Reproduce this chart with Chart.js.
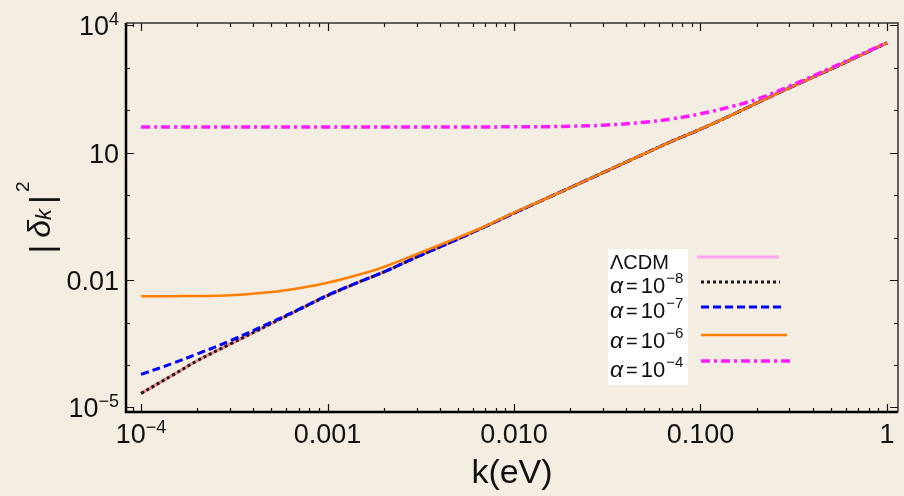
<!DOCTYPE html>
<html>
<head>
<meta charset="utf-8">
<script src="https://cdn.jsdelivr.net/npm/chart.js@4/dist/chart.umd.min.js"></script>
<style>
  html, body { margin: 0; background: #f3ede2; }
  canvas { display: block; }
</style>
</head>
<body>
<canvas id="deltaChart" width="904" height="496"></canvas>
<script>
// k in eV
const kValues = [1e-4, 1.5e-4, 2e-4, 3e-4, 5e-4, 7e-4, 1e-3, 1.5e-3, 2e-3, 3e-3, 5e-3, 7e-3,
  0.01, 0.015, 0.02, 0.03, 0.05, 0.07, 0.1, 0.15, 0.2, 0.3, 0.5, 0.7, 1];

// |delta_k|^2
const lcdm = [2.14e-5, 6.0e-5, 1.26e-4, 3.1e-4, 9.5e-4, 2.0e-3, 4.3e-3, 9.3e-3, 0.0155, 0.0347, 0.093, 0.182,
  0.38, 0.85, 1.51, 3.4, 9.5, 18.6, 36, 81, 148, 340, 933, 1860, 3890];
const alpha8 = [2.14e-5, 6.0e-5, 1.26e-4, 3.1e-4, 9.5e-4, 2.0e-3, 4.3e-3, 9.3e-3, 0.0155, 0.0347, 0.093, 0.182,
  0.38, 0.85, 1.51, 3.4, 9.5, 18.6, 36, 81, 148, 340, 933, 1860, 3890];
const alpha7 = [6.0e-5, 1.12e-4, 1.82e-4, 3.7e-4, 1.02e-3, 2.04e-3, 4.4e-3, 9.3e-3, 0.0155, 0.0347, 0.093, 0.182,
  0.38, 0.85, 1.51, 3.4, 9.5, 18.6, 36, 81, 148, 340, 933, 1860, 3890];
const alpha6 = [4.17e-3, 4.19e-3, 4.22e-3, 4.37e-3, 5.25e-3, 6.46e-3, 8.7e-3, 0.0138, 0.0204, 0.0407, 0.100, 0.186,
  0.39, 0.85, 1.51, 3.4, 9.5, 18.6, 36, 81, 148, 340, 933, 1860, 3890];
const alpha4 = [40.8, 40.8, 40.8, 40.8, 40.8, 40.8, 40.8, 40.8, 40.8, 40.8, 40.8, 40.8,
  40.9, 41.2, 42.2, 44.7, 52.5, 63, 83, 126, 182, 372, 1000, 1950, 3980];

const legendNames = ['ΛCDM', 'α = 10', 'α = 10', 'α = 10', 'α = 10'];
const legendExps = ['', '−8', '−7', '−6', '−4'];

const xTickValues = [1e-4, 1e-3, 1e-2, 1e-1, 1];
const xTickLabels = ['10^−4', '0.001', '0.010', '0.100', '1'];
const yTickValues = [1e-5, 1e-2, 10, 1e4];
const yTickLabels = ['10^−5', '0.01', '10', '10^4'];

const FONT = '"Liberation Sans", Arial, sans-serif';
const isSame = (a, b) => Math.abs(Math.log10(a) - Math.log10(b)) < 1e-6;
const toPoints = arr => arr.map((v, i) => ({ x: kValues[i], y: v }));

const frameTicks = {
  id: 'frameTicks',
  afterDatasetsDraw(chart) {
    const { ctx, chartArea: a, scales: { x, y } } = chart;
    ctx.save();
    ctx.strokeStyle = '#111';
    ctx.lineWidth = 1.2;
    ctx.beginPath();
    x.ticks.forEach(t => {
      const px = Math.round(x.getPixelForValue(t.value)) + 0.5;
      const len = xTickValues.some(v => isSame(v, t.value)) ? 8 : 4;
      ctx.moveTo(px, a.bottom); ctx.lineTo(px, a.bottom - len);
      ctx.moveTo(px, a.top); ctx.lineTo(px, a.top + len);
    });
    y.ticks.forEach(t => {
      const py = Math.round(y.getPixelForValue(t.value)) + 0.5;
      const len = yTickValues.some(v => isSame(v, t.value)) ? 8 : 4;
      ctx.moveTo(a.left, py); ctx.lineTo(a.left + len, py);
      ctx.moveTo(a.right, py); ctx.lineTo(a.right - len, py);
    });
    ctx.stroke();
    ctx.strokeStyle = '#333';
    ctx.lineWidth = 1.5;
    ctx.beginPath();
    ctx.moveTo(a.left, a.top); ctx.lineTo(a.right, a.top); ctx.lineTo(a.right, a.bottom);
    ctx.stroke();
    ctx.strokeStyle = '#000';
    ctx.lineWidth = 2.5;
    ctx.beginPath();
    ctx.moveTo(a.left, a.top); ctx.lineTo(a.left, a.bottom); ctx.lineTo(a.right, a.bottom);
    ctx.stroke();
    ctx.restore();
  }
};

// tick labels with real superscripts
function drawLabel(ctx, text, x, baseline, align) {
  const [base, exp] = text.split('^');
  ctx.font = '27px ' + FONT;
  const wb = ctx.measureText(base).width;
  let we = 0;
  if (exp) { ctx.font = '18px ' + FONT; we = ctx.measureText(exp).width; }
  const w = wb + we;
  const x0 = align === 'right' ? x - w : x - w / 2;
  ctx.font = '27px ' + FONT;
  ctx.fillText(base, x0, baseline);
  if (exp) {
    ctx.font = '18px ' + FONT;
    ctx.fillText(exp, x0 + wb, baseline - 10);
  }
}

const tickLabels = {
  id: 'tickLabels',
  afterDraw(chart) {
    const { ctx, chartArea: a, scales: { x, y } } = chart;
    ctx.save();
    ctx.fillStyle = '#111';
    ctx.textAlign = 'left';
    ctx.textBaseline = 'alphabetic';
    xTickValues.forEach((v, i) => drawLabel(ctx, xTickLabels[i], x.getPixelForValue(v), a.bottom + 31, 'center'));
    yTickValues.forEach((v, i) => drawLabel(ctx, yTickLabels[i], a.left - 7, y.getPixelForValue(v) + 10, 'right'));
    ctx.restore();
  }
};

const yTitle = {
  id: 'yTitle',
  afterDraw(chart) {
    const { ctx, chartArea: a } = chart;
    const parts = [
      { t: '|', font: '34px ' + FONT, dy: 3, gap: 7 },
      { t: 'δ', font: 'italic 32px ' + FONT, dy: 0, gap: 0 },
      { t: 'k', font: 'italic 22px ' + FONT, dy: 1, gap: 5 },
      { t: '|', font: '34px ' + FONT, dy: 3, gap: 3 },
      { t: '2', font: '19px ' + FONT, dy: -21, gap: 0 }
    ];
    ctx.save();
    ctx.fillStyle = '#111';
    let total = 0;
    parts.forEach(p => { ctx.font = p.font; p.w = ctx.measureText(p.t).width; total += p.w + p.gap; });
    ctx.translate(50, (a.top + a.bottom) / 2);
    ctx.rotate(-Math.PI / 2);
    ctx.textBaseline = 'alphabetic';
    let u = -total / 2;
    parts.forEach(p => {
      ctx.font = p.font;
      ctx.fillText(p.t, u, p.dy);
      u += p.w + p.gap;
    });
    ctx.restore();
  }
};

const legendSwatch = ['#ffa6f0', null, null, null, null];
const legendBox = {
  id: 'legendBox',
  afterDraw(chart) {
    const ctx = chart.ctx;
    const baselines = [269, 293, 318, 348, 377];
    const lineY = [257, 282, 307, 335, 361];
    const lineEnd = [779, 780, 782, 787, 791];
    ctx.save();
    ctx.fillStyle = '#fff';
    ctx.fillRect(608, 249, 80, 136);
    ctx.fillStyle = '#111';
    ctx.textBaseline = 'alphabetic';
    legendNames.forEach((name, i) => {
      let x = 610;
      if (i === 0) {
        ctx.font = '20px ' + FONT;
        ctx.fillText(name, x, baselines[i]);
      } else {
        ctx.font = 'italic 23px ' + FONT;
        ctx.fillText('α', x, baselines[i]);
        x += ctx.measureText('α').width + 3;
        ctx.font = '20px ' + FONT;
        ctx.fillText('=', x, baselines[i]);
        x += ctx.measureText('=').width + 3;
        ctx.font = '22px ' + FONT;
        ctx.fillText('10', x, baselines[i]);
        x += ctx.measureText('10').width + 1;
        ctx.font = '15px ' + FONT;
        ctx.fillText(legendExps[i], x, baselines[i] - 10);
      }
      const ds = chart.data.datasets[i];
      ctx.strokeStyle = legendSwatch[i] || ds.borderColor;
      ctx.lineWidth = ds.borderWidth;
      ctx.setLineDash(ds.borderDash || []);
      ctx.beginPath();
      ctx.moveTo(i === 0 ? 697 : 701, lineY[i]);
      ctx.lineTo(lineEnd[i], lineY[i]);
      ctx.stroke();
    });
    ctx.restore();
  }
};

new Chart(document.getElementById('deltaChart'), {
  type: 'line',
  data: {
    datasets: [
      { label: 'ΛCDM', data: toPoints(lcdm), borderColor: '#f08a8a', borderWidth: 3, order: 5 },
      { label: 'α = 10⁻⁸', data: toPoints(alpha8), borderColor: '#1a1a1a', borderWidth: 3, borderDash: [3, 3], order: 4 },
      { label: 'α = 10⁻⁷', data: toPoints(alpha7), borderColor: '#0000ff', borderWidth: 3, borderDash: [8, 4], order: 3 },
      { label: 'α = 10⁻⁶', data: toPoints(alpha6), borderColor: '#ff7f00', borderWidth: 2.5, order: 2 },
      { label: 'α = 10⁻⁴', data: toPoints(alpha4), borderColor: '#ff1aff', borderWidth: 3.5, borderDash: [9, 4, 3, 4], order: 1 }
    ]
  },
  options: {
    responsive: false,
    animation: false,
    devicePixelRatio: 1,
    layout: { padding: { top: 23, right: 6, left: 0, bottom: 0 } },
    elements: {
      point: { radius: 0 },
      line: { tension: 0.4, borderCapStyle: 'butt', fill: false }
    },
    plugins: { legend: { display: false }, tooltip: { enabled: false } },
    scales: {
      x: {
        type: 'logarithmic',
        min: 8.3e-5,
        max: 1.146,
        grid: { display: false, drawTicks: false },
        border: { display: false },
        afterBuildTicks: s => {
          const ticks = [];
          for (let e = -5; e <= 0; e++) {
            for (let m = 1; m <= 9; m++) {
              const v = m * Math.pow(10, e);
              if (v >= s.min && v <= s.max) ticks.push({ value: v });
            }
          }
          s.ticks = ticks;
        },
        afterFit: s => { s.height = 84; },
        ticks: { display: false, autoSkip: false },
        title: {
          display: true,
          text: 'k(eV)',
          color: '#111',
          font: { family: FONT, size: 34 },
          padding: { top: 0, bottom: 2 }
        }
      },
      y: {
        type: 'logarithmic',
        min: 7.8e-6,
        max: 11450,
        grid: { display: false, drawTicks: false },
        border: { display: false },
        afterBuildTicks: s => {
          const ticks = [];
          for (let e = -5; e <= 4; e++) ticks.push({ value: Math.pow(10, e) });
          s.ticks = ticks;
        },
        afterFit: s => { s.width = 126; },
        ticks: { display: false, autoSkip: false }
      }
    }
  },
  plugins: [frameTicks, tickLabels, yTitle, legendBox]
});
</script>
</body>
</html>
